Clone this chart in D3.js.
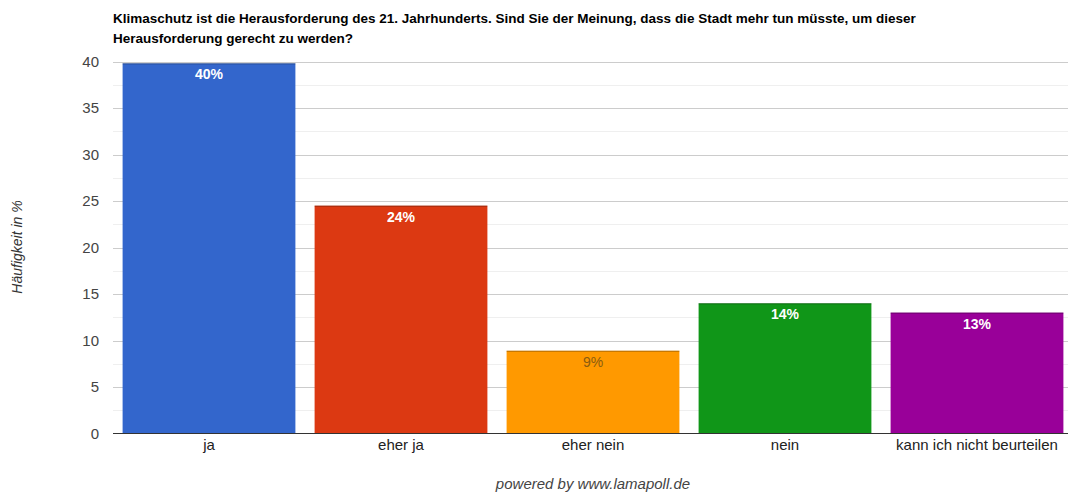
<!DOCTYPE html>
<html><head><meta charset="utf-8">
<script src="https://cdn.jsdelivr.net/npm/d3@7"></script>
<style>body{margin:0;background:#fff;font-family:Arial,"Liberation Sans",sans-serif;}</style>
</head><body>
<svg id="c" width="1068" height="495"></svg>
<script>
const categories = ["ja","eher ja","eher nein","nein","kann ich nicht beurteilen"];
const values = [39.8, 24.5, 8.9, 14.0, 13.0];
const labels = ["40%","24%","9%","14%","13%"];
const colors = ["#3366cc","#dc3912","#ff9900","#109618","#990099"];
const yTicks = [0,5,10,15,20,25,30,35,40];
const titleLines = ["Klimaschutz ist die Herausforderung des 21. Jahrhunderts. Sind Sie der Meinung, dass die Stadt mehr tun müsste, um dieser","Herausforderung gerecht zu werden?"];

(function(){
const svg = d3.select("#c");
const pl = 113, pr = 1073, pt = 61.5, pb = 433.5;
const x = d3.scaleBand().domain(categories).range([pl,pr]).paddingInner(0.1).paddingOuter(0.05);
const y = d3.scaleLinear().domain([0,40]).range([pb,pt]);

svg.selectAll("text.title").data(titleLines).join("text").attr("class","title")
  .attr("x",113).attr("y",(d,i)=>23+i*20).attr("font-size",13.5).attr("font-weight","bold").attr("fill","#000").text(d=>d);

const minor = d3.range(2.5,40,5);
svg.selectAll("line.minor").data(minor).join("line").attr("class","minor")
  .attr("x1",pl).attr("x2",1068).attr("y1",d=>Math.round(y(d))+0.5).attr("y2",d=>Math.round(y(d))+0.5)
  .attr("stroke","#efefef").attr("stroke-width",1);
svg.selectAll("line.major").data(yTicks.filter(d=>d>0)).join("line").attr("class","major")
  .attr("x1",pl).attr("x2",1068).attr("y1",d=>Math.round(y(d))+0.5).attr("y2",d=>Math.round(y(d))+0.5)
  .attr("stroke","#cccccc").attr("stroke-width",1);

const yAxis = svg.append("g").attr("transform",`translate(${pl},0)`)
  .call(d3.axisLeft(y).tickValues(yTicks).tickSize(0).tickPadding(14));
yAxis.select(".domain").remove();
yAxis.selectAll("text").attr("font-size",15).attr("fill","#444").attr("font-family","Arial,'Liberation Sans',sans-serif");

const bars = svg.selectAll("g.bar").data(categories).join("g").attr("class","bar");
bars.append("rect").attr("x",d=>x(d)).attr("width",x.bandwidth())
  .attr("y",(d,i)=>y(values[i])).attr("height",(d,i)=>pb-y(values[i]))
  .attr("fill",(d,i)=>colors[i]);
bars.append("line").attr("x1",d=>x(d)).attr("x2",d=>x(d)+x.bandwidth())
  .attr("y1",(d,i)=>y(values[i])+0.5).attr("y2",(d,i)=>y(values[i])+0.5)
  .attr("stroke","#000").attr("stroke-opacity",0.3).attr("stroke-width",1);
bars.append("text").attr("x",d=>x(d)+x.bandwidth()/2).attr("y",(d,i)=>y(values[i])+16)
  .attr("text-anchor","middle").attr("font-size",14)
  .attr("font-weight",(d,i)=>i===2?"normal":"bold")
  .attr("fill",(d,i)=>i===2?"#8a5c10":"#ffffff")
  .text((d,i)=>labels[i]);

svg.append("line").attr("x1",pl).attr("x2",1068).attr("y1",pb).attr("y2",pb).attr("stroke","#333").attr("stroke-width",1);

const xAxis = svg.append("g").attr("transform",`translate(0,${pb})`)
  .call(d3.axisBottom(x).tickSize(0).tickPadding(6));
xAxis.select(".domain").remove();
xAxis.selectAll("text").attr("font-size",15).attr("fill","#222").attr("font-family","Arial,'Liberation Sans',sans-serif");

svg.append("text").attr("transform","translate(22,247) rotate(-90)").attr("text-anchor","middle")
  .attr("font-size",14).attr("font-style","italic").attr("fill","#333").text("Häufigkeit in %");

svg.append("text").attr("x",593).attr("y",489).attr("text-anchor","middle")
  .attr("font-size",15).attr("font-style","italic").attr("fill","#444").text("powered by www.lamapoll.de");
})();
</script>
</body></html>
